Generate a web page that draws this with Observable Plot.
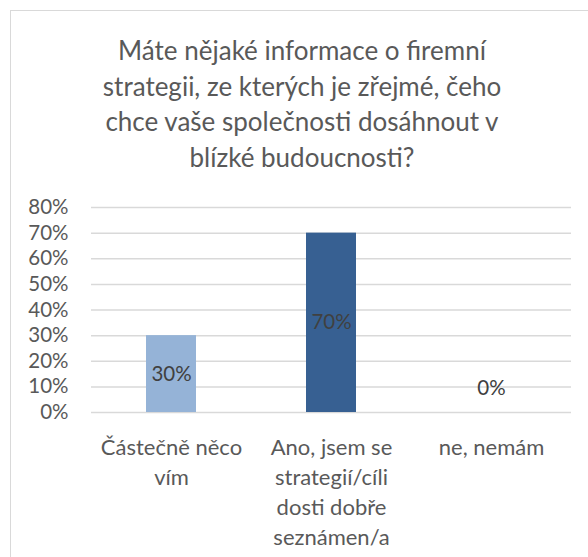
<!DOCTYPE html>
<html>
<head>
<meta charset="utf-8">
<script src="https://cdn.jsdelivr.net/npm/d3@7"></script>
<script src="https://cdn.jsdelivr.net/npm/@observablehq/plot@0.6"></script>
<style>
  html, body { margin: 0; padding: 0; background: #fff; }
  body { width: 588px; height: 557px; overflow: hidden; position: relative; font-family: Lato, "Open Sans", sans-serif; }
  #frame { position: absolute; left: 10px; top: 10px; width: 640px; height: 640px; border: 1px solid #d9d9d9; box-sizing: border-box; }
  #title { position: absolute; left: 0; top: 0; width: 604px; height: 190px; box-sizing: border-box; padding-top: 33px;
           text-align: center; color: #595959; font-size: 26px; line-height: 35.5px; }
  #chart { position: absolute; left: 0; top: 190px; }
</style>
</head>
<body>
<div id="frame"></div>
<div id="title"></div>
<div id="chart"></div>
<script>
const titleLines = [
  "Máte nějaké informace o firemní",
  "strategii, ze kterých je zřejmé, čeho",
  "chce vaše společnosti dosáhnout v",
  "blízké budoucnosti?"
];
const categories = [
  "Částečně něco\nvím",
  "Ano, jsem se\nstrategií/cíli\ndosti dobře\nseznámen/a",
  "ne, nemám"
];
const values = [0.30, 0.70, 0.00];
const barColors = ["#95B3D7", "#376092", "#4F81BD"];
const yTicks = [0, 0.1, 0.2, 0.3, 0.4, 0.5, 0.6, 0.7, 0.8];

document.getElementById("title").innerHTML = titleLines.join("<br>");

const data = categories.map((c, i) => ({category: c, value: values[i], color: barColors[i]}));
const pct = d3.format(".0%");

const chart = Plot.plot({
  width: 588,
  height: 367,
  marginTop: 17,
  marginBottom: 145,
  marginLeft: 91,
  marginRight: 17,
  style: {fontFamily: "Lato, 'Open Sans', sans-serif", color: "#595959", background: "transparent"},
  x: {type: "band", domain: categories, padding: 0},
  y: {domain: [0, 0.8]},
  marks: [
    Plot.gridY(yTicks, {stroke: "#d9d9d9", strokeOpacity: 1, strokeWidth: 1.5}),
    Plot.barY(data, {x: "category", y: "value", fill: "color", insetLeft: 55, insetRight: 55}),
    Plot.axisY(yTicks, {tickFormat: pct, tickSize: 0, tickPadding: 23, fontSize: 20.5, fill: "#595959", label: null}),
    Plot.axisX({tickSize: 0, tickPadding: 21, fontSize: 22, lineHeight: 1.36, fill: "#595959", label: null}),
    Plot.text(data.filter(d => d.value > 0), {x: "category", y: d => d.value / 2, text: d => pct(d.value), fill: "#404040", fontSize: 20.5}),
    Plot.text(data.filter(d => d.value === 0), {x: "category", y: "value", text: d => pct(d.value), fill: "#404040", fontSize: 20.5, dy: -24})
  ]
});
document.getElementById("chart").appendChild(chart);
</script>
</body>
</html>
